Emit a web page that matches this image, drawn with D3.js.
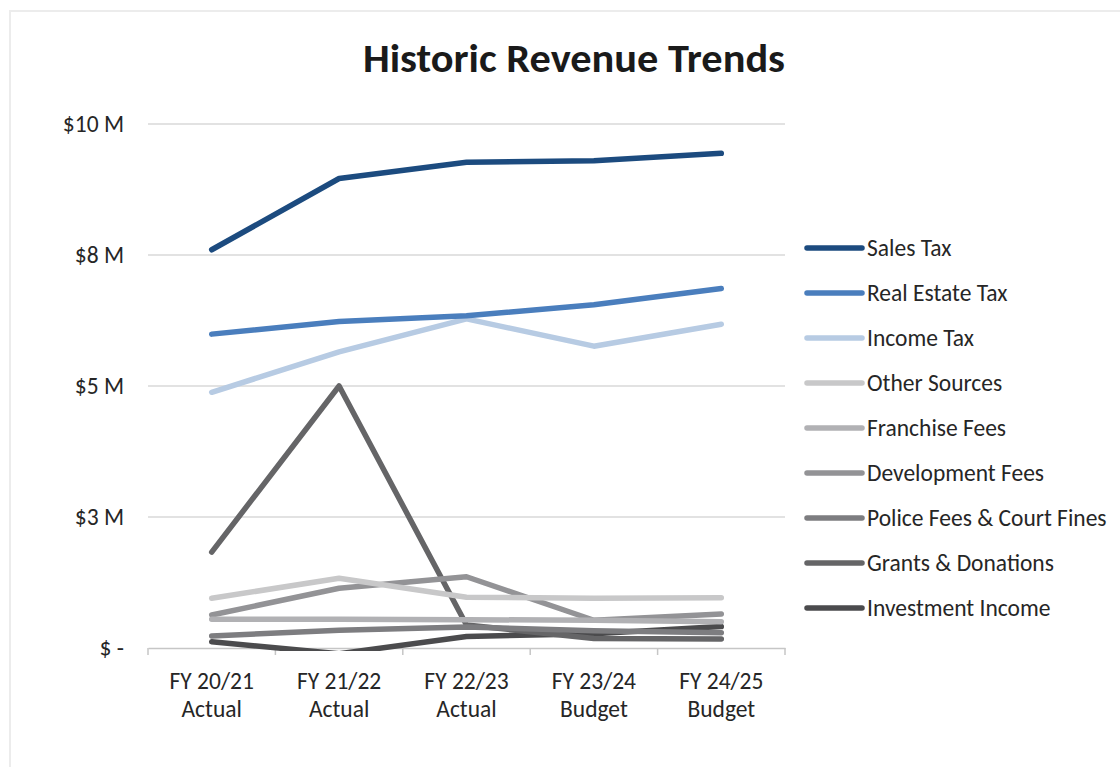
<!DOCTYPE html>
<html lang="en">
<head>
    <meta charset="UTF-8">
    <title>Historic Revenue Trends</title>
    <style>
        body {
            margin: 0;
            background: #fff;
        }
        #chart text {
            font-family: Carlito, Calibri, "Open Sans", sans-serif;
        }
    </style>
</head>
<body>
    <div id="chart"></div>

    <script src="https://d3js.org/d3.v7.min.js"></script>
    <script>
        // data, values in $ millions
        const years = ['FY 20/21|Actual', 'FY 21/22|Actual', 'FY 22/23|Actual', 'FY 23/24|Budget', 'FY 24/25|Budget']
        const seriesNames = ['Sales Tax', 'Real Estate Tax', 'Income Tax', 'Other Sources', 'Franchise Fees',
            'Development Fees', 'Police Fees & Court Fines', 'Grants & Donations', 'Investment Income']
        const salesTax = [7.60, 8.96, 9.27, 9.30, 9.44]
        const realEstateTax = [5.99, 6.23, 6.34, 6.55, 6.86]
        const incomeTax = [4.88, 5.65, 6.28, 5.76, 6.18]
        const otherSources = [0.95, 1.33, 0.97, 0.95, 0.96]
        const franchiseFees = [0.55, 0.55, 0.54, 0.53, 0.50]
        const developmentFees = [0.63, 1.14, 1.36, 0.53, 0.65]
        const policeFees = [0.23, 0.34, 0.40, 0.33, 0.29]
        const grants = [1.83, 5.00, 0.44, 0.18, 0.17]
        const investmentIncome = [0.12, -0.11, 0.22, 0.27, 0.41]
        const yTicks = [0, 2.5, 5, 7.5, 10]
        const yTickLabels = ['$ -', '$3 M', '$5 M', '$8 M', '$10 M']

        const allValues = [salesTax, realEstateTax, incomeTax, otherSources, franchiseFees,
            developmentFees, policeFees, grants, investmentIncome]
        const colors = ['#1c4b7f', '#4a7ebd', '#b7cbe3', '#c8c8c9', '#b1b1b4',
            '#939396', '#7d7d80', '#656567', '#4b4b4d']

        const width = 1120
        const height = 767
        const plot = { left: 148, right: 785, top: 124, bottom: 648 }
        const textColor = '#262626'
        const gridColor = '#d9d9d9'
        const fontSize = '23.5px'

        const svg = d3.select('#chart')
            .append('svg')
            .attr('width', width)
            .attr('height', height)

        // outer chart border
        svg.append('rect')
            .attr('x', 10)
            .attr('y', 11)
            .attr('width', 1300)
            .attr('height', 900)
            .attr('fill', '#fff')
            .attr('stroke', '#ececec')
            .attr('stroke-width', 2)

        svg.append('text')
            .attr('x', 574)
            .attr('y', 72)
            .attr('text-anchor', 'middle')
            .attr('fill', '#1a1a1a')
            .style('font-size', '40px')
            .style('font-weight', 700)
            .attr('textLength', 422)
            .attr('lengthAdjust', 'spacingAndGlyphs')
            .text('Historic Revenue Trends')

        const x = d3.scalePoint()
            .domain(years)
            .range([plot.left, plot.right])
            .padding(0.5)
        const xBand = d3.scaleBand()
            .domain(years)
            .range([plot.left, plot.right])
        const y = d3.scaleLinear()
            .domain([0, 10])
            .range([plot.bottom, plot.top])

        // gridlines
        const grid = svg.append('g')
        grid.selectAll('line')
            .data(yTicks.filter(d => d > 0))
            .enter()
            .append('line')
            .attr('x1', plot.left)
            .attr('x2', plot.right)
            .attr('y1', d => y(d))
            .attr('y2', d => y(d))
            .attr('stroke', gridColor)
            .attr('stroke-width', 1.5)

        // y labels
        svg.append('g')
            .selectAll('text')
            .data(yTicks)
            .enter()
            .append('text')
            .attr('x', 124)
            .attr('y', d => y(d) + 8)
            .attr('text-anchor', 'end')
            .attr('fill', textColor)
            .style('font-size', fontSize)
            .text((d, i) => yTickLabels[i])

        // x axis with ticks at category boundaries
        const xAxis = svg.append('g')
            .attr('transform', `translate(0, ${plot.bottom})`)
            .call(d3.axisBottom(xBand).tickSize(0).tickFormat(''))
        xAxis.select('.domain').attr('stroke', '#c6c6c6').attr('stroke-width', 1.5)
        xAxis.selectAll('.tick').remove()

        const bounds = years.map(d => xBand(d)).concat([plot.right])
        svg.append('g')
            .selectAll('line')
            .data(bounds)
            .enter()
            .append('line')
            .attr('x1', d => d)
            .attr('x2', d => d)
            .attr('y1', plot.bottom)
            .attr('y2', plot.bottom + 7)
            .attr('stroke', '#c6c6c6')
            .attr('stroke-width', 1.5)

        const xLabels = svg.append('g')
            .selectAll('text')
            .data(years)
            .enter()
            .append('text')
            .attr('x', d => x(d))
            .attr('y', 689)
            .attr('text-anchor', 'middle')
            .attr('fill', textColor)
            .style('font-size', fontSize)
        xLabels.append('tspan')
            .attr('x', d => x(d))
            .text(d => d.split('|')[0])
        xLabels.append('tspan')
            .attr('x', d => x(d))
            .attr('dy', 28)
            .text(d => d.split('|')[1])

        // clip lines to plot area (Excel hides values under the axis)
        svg.append('clipPath')
            .attr('id', 'plot-clip')
            .append('rect')
            .attr('x', 0)
            .attr('y', 0)
            .attr('width', width)
            .attr('height', plot.bottom + 3)

        const line = d3.line()
            .x((d, i) => x(years[i]))
            .y(d => y(d))

        const lines = svg.append('g')
            .attr('clip-path', 'url(#plot-clip)')
        // draw last series first so Sales Tax ends on top, like the reference
        for (let s = allValues.length - 1; s >= 0; s--) {
            lines.append('path')
                .datum(allValues[s])
                .attr('d', line)
                .attr('fill', 'none')
                .attr('stroke', colors[s])
                .attr('stroke-width', 5.5)
                .attr('stroke-linecap', 'round')
                .attr('stroke-linejoin', 'round')
        }

        // legend
        const legend = svg.append('g')
            .selectAll('g')
            .data(seriesNames)
            .enter()
            .append('g')
            .attr('transform', (d, i) => `translate(807, ${248 + i * 45})`)
        legend.append('line')
            .attr('x1', 0)
            .attr('x2', 55)
            .attr('stroke', (d, i) => colors[i])
            .attr('stroke-width', 5.5)
            .attr('stroke-linecap', 'round')
        legend.append('text')
            .attr('x', 60)
            .attr('y', 8)
            .attr('fill', textColor)
            .style('font-size', fontSize)
            .text(d => d)
    </script>
</body>
</html>
